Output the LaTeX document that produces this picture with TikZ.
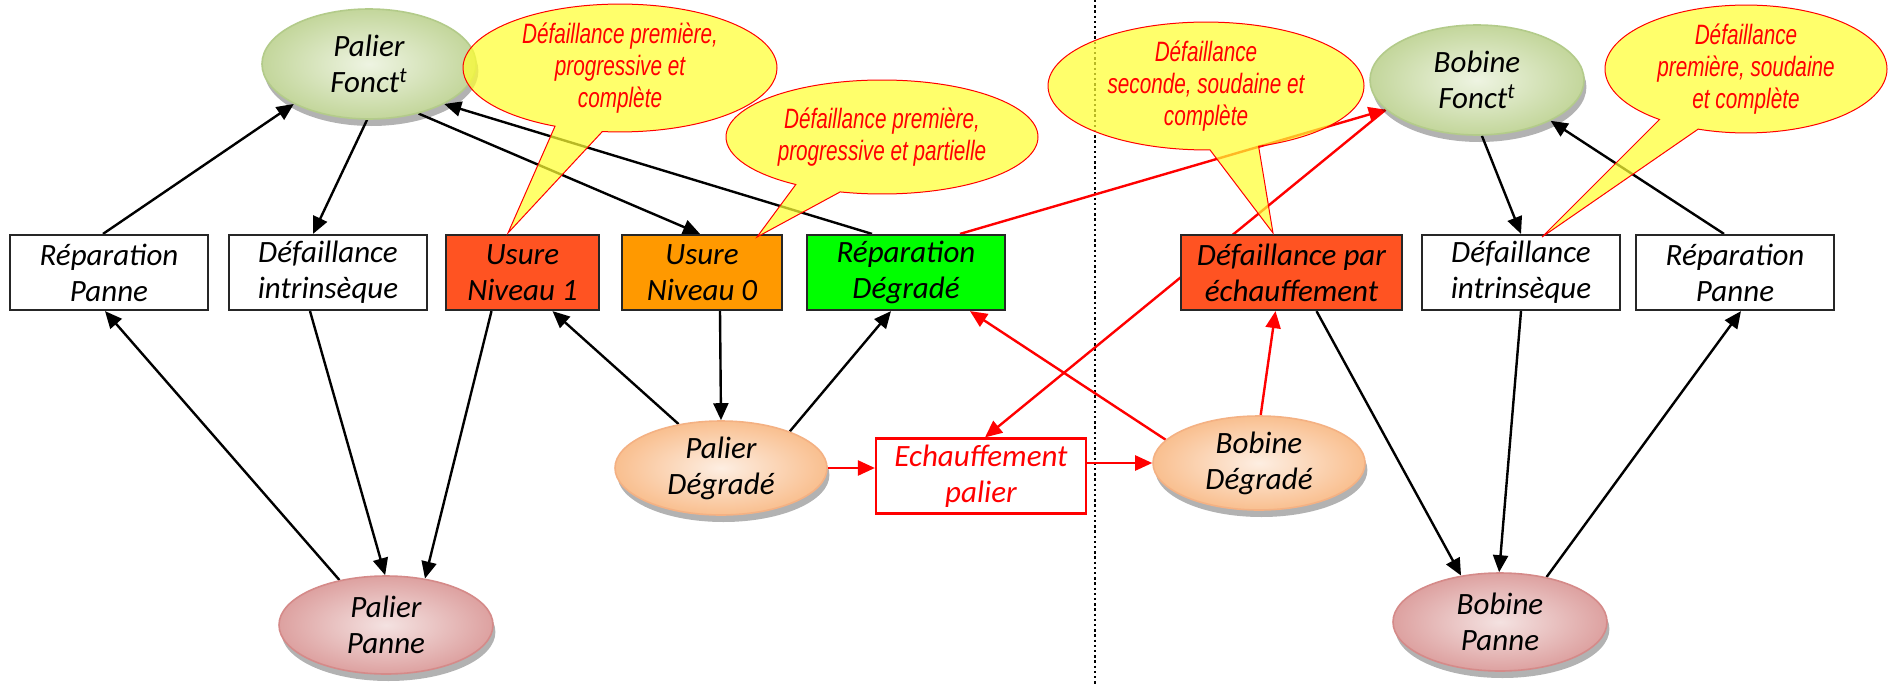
\documentclass[tikz,border=0pt]{standalone}
\usepackage{fontspec}
\setmainfont{Carlito}
\newfontfamily\callfamily[FakeStretch=0.74]{Liberation Sans}
\usetikzlibrary{shapes.geometric,shapes.callouts,arrows.meta,shadows,calc}
\newcommand\bxfont{\fontsize{15.5}{18}\selectfont\itshape}
\newcommand\clfont{\callfamily\fontsize{14}{16}\selectfont\itshape}
\definecolor{usureA}{HTML}{FF5322}
\definecolor{usureB}{HTML}{FF9900}
\definecolor{repgreen}{HTML}{00FF00}
\definecolor{fonctin}{HTML}{EEF4E2}
\definecolor{fonctout}{HTML}{C3D69B}
\definecolor{fonctborder}{HTML}{B3CB8A}
\definecolor{degrin}{HTML}{FDEEE2}
\definecolor{degrout}{HTML}{F9BF8F}
\definecolor{degrborder}{HTML}{F4B183}
\definecolor{panin}{HTML}{F4E2E1}
\definecolor{panout}{HTML}{DDA1A0}
\definecolor{panborder}{HTML}{D58A89}
\definecolor{bulleyellow}{HTML}{FFFF33}
\pgfdeclarelayer{bg}
\pgfsetlayers{bg,main}
\begin{document}
\begin{tikzpicture}[x=0.5pt,y=-0.5pt,
  bx/.style={rectangle, draw=black!85, fill=white, line width=1.1pt, minimum height=37.5pt, align=center, font=\bxfont, inner sep=1pt},
  oval/.style={ellipse, line width=0.8pt, align=center, font=\bxfont, inner sep=0pt,
    drop shadow={shadow xshift=1.2pt, shadow yshift=-3.5pt, fill=black, opacity=0.3}},
  fonct/.style={oval, minimum width=107pt, minimum height=55pt, draw=fonctborder, inner color=fonctin, outer color=fonctout},
  degr/.style={oval, minimum width=106pt, minimum height=47pt, draw=degrborder, inner color=degrin, outer color=degrout},
  panne/.style={oval, minimum width=107pt, minimum height=49pt, draw=panborder, inner color=panin, outer color=panout},
  arr/.style={-{Triangle[length=8.5pt,width=7.5pt]}, line width=1.2pt, black},
  rarr/.style={arr, red},
  bulle/.style={ellipse callout, draw=red, line width=0.5pt, fill=bulleyellow, fill opacity=0.72, text opacity=1, text=red, font=\clfont, align=center, callout pointer arc=18, inner sep=0pt}
]
\useasboundingbox (0,0) rectangle (1889,685);

% ellipses
\node[fonct] (PF) at (369,64) {Palier\\Fonct\textsuperscript{t}};
\node[fonct] (BF) at (1477,80) {Bobine\\Fonct\textsuperscript{t}};
\node[degr] (PD) at (721,468) {Palier\\Dégradé};
\node[degr] (BD) at (1259,463) {Bobine\\Dégradé};
\node[panne] (PP) at (386,625) {Palier\\Panne};
\node[panne] (BP) at (1500,622) {Bobine\\Panne};

% boxes
\node[bx, minimum width=99pt] (RPL) at (109,272.5) {Réparation\\Panne};
\node[bx, minimum width=99pt] (DIL) at (328,272.5) {Défaillance\\intrinsèque};
\node[bx, minimum width=76.5pt, fill=usureA] (U1) at (522.5,272.5) {Usure\\Niveau 1};
\node[bx, minimum width=80pt, fill=usureB] (U0) at (702,272.5) {Usure\\Niveau 0};
\node[bx, minimum width=99pt, fill=repgreen] (RD) at (906,272.5) {Réparation\\Dégradé};
\node[bx, minimum width=110.5pt, fill=usureA] (DE) at (1291.5,272.5) {Défaillance par\\échauffement};
\node[bx, minimum width=99pt] (DIR) at (1521,272.5) {Défaillance\\intrinsèque};
\node[bx, minimum width=99pt] (RPR) at (1735,272.5) {Réparation\\Panne};
\node[bx, draw=red, text=red, minimum width=105pt] (EP) at (981,476) {Echauffement\\palier};

\coordinate (dtop) at (1095,0);
\coordinate (dbot) at (1095,685);

\begin{pgfonlayer}{bg}
\fill[white] (0,0) rectangle (1889,685);
\draw[line width=1.2pt, dash pattern=on 1.2pt off 1.4pt] (dtop) -- (dbot);
% left (palier)
\draw[arr] ($(RPL.north)+(-6,0)$) -- (PF.208);
\draw[arr] (PF.268) -- ($(DIL.north)+(-15,0)$);
\draw[arr] (PF.315) -- ($(U0.north)+(-2,0)$);
\draw[arr] ($(RD.north)+(-34,0)$) -- (PF.332);
\draw[arr] (PP.136) -- ($(RPL.south)+(-4,0)$);
\draw[arr] ($(DIL.south)+(-18,0)$) -- (PP.91);
\draw[arr] ($(U1.south)+(-31,0)$) -- (PP.50);
\draw[arr] (PD.134) -- ($(U1.south)+(30,0)$);
\draw[arr] ($(U0.south)+(18,0)$) -- (PD.north);
\draw[arr] (PD.28) -- ($(RD.south)+(-15,0)$);
% right (bobine)
\draw[arr] (BF.275) -- (DIR.north);
\draw[arr] ($(RPR.north)+(-11,0)$) -- (BF.331);
\draw[arr] ($(DE.south)+(25,0)$) -- (BP.130);
\draw[arr] (DIR.south) -- (BP.91);
\draw[arr] (BP.44) -- ($(RPR.south)+(6,0)$);
% red
\draw[rarr] ($(RD.north)+(54,0)$) -- (BF.198);
\draw[rarr] (BF.198) -- ($(EP.north)+(4,0)$);
\draw[rarr] (PD.east) -- (EP.west |- PD.east);
\draw[rarr] (EP.east |- BD.west) -- (BD.west);
\draw[rarr] (BD.166) -- ($(RD.south)+(64,0)$);
\draw[rarr] (BD.88) -- ($(DE.south)+(-16,0)$);
\end{pgfonlayer}

% callouts
\coordinate (t1) at (508,233);
\coordinate (t2) at (757,237);
\coordinate (t3) at (1273,233);
\coordinate (t4) at (1542,237);
\node[bulle, minimum width=157pt, minimum height=58pt, callout absolute pointer={(t1)}] (C1) at (620,68) {Défaillance première,\\progressive et\\complète};
\node[bulle, minimum width=156pt, minimum height=57pt, callout absolute pointer={(t2)}] (C2) at (882,137) {Défaillance première,\\progressive et partielle};
\node[bulle, minimum width=158pt, minimum height=49pt, callout absolute pointer={(t3)}] (C3) at (1206,86) {Défaillance\\seconde, soudaine et\\complète};
\node[bulle, minimum width=141pt, minimum height=59pt, callout absolute pointer={(t4)}] (C4) at (1746,69) {Défaillance\\première, soudaine\\et complète};
\end{tikzpicture}
\end{document}
